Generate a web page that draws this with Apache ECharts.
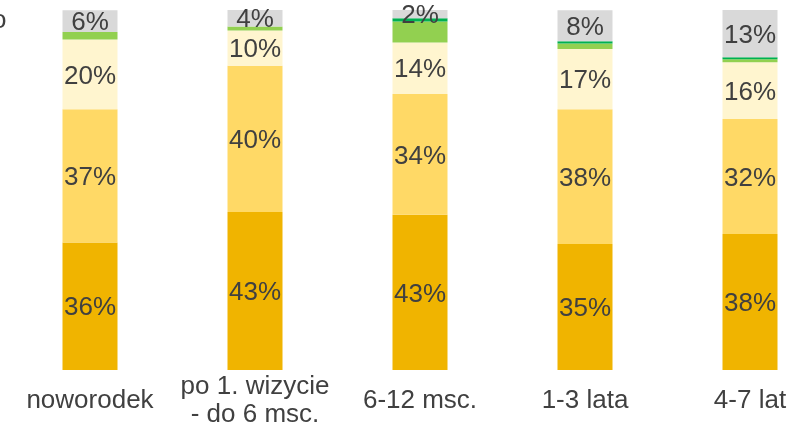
<!DOCTYPE html>
<html>
<head>
<meta charset="utf-8">
<script src="https://cdn.jsdelivr.net/npm/echarts@6/dist/echarts.min.js"></script>
<style>
  html, body { margin: 0; padding: 0; background: #fff; }
  #chart { width: 795px; height: 425px; }
</style>
</head>
<body>
<div id="chart"></div>
<script>
// kategorie
const categories = ['noworodek', 'po 1. wizycie\n- do 6 msc.', '6-12 msc.', '1-3 lata', '4-7 lat']

// udziały (w %)
const darkGold = [35.4, 43.9, 43.1, 35.0, 37.8]
const lightGold = [37.0, 40.6, 33.6, 37.4, 31.9]
const cream = [19.4, 9.8, 14.3, 16.8, 15.8]
const lightGreen = [2.1, 1.1, 5.8, 1.5, 0.8]
const darkGreen = [0, 0, 0.9, 0.6, 0.6]
const gray = [6.0, 4.6, 2.3, 8.6, 13.1]

// etykiety tak jak na oryginale
const darkGoldLabels = ['36%', '43%', '43%', '35%', '38%']
const lightGoldLabels = ['37%', '40%', '34%', '38%', '32%']
const creamLabels = ['20%', '10%', '14%', '17%', '16%']
const grayLabels = ['6%', '4%', '2%', '8%', '13%']

const font = '"Liberation Sans", Arial, sans-serif'

function segment(name, data, color, labels) {
  return {
    name: name,
    type: 'bar',
    stack: 'total',
    barWidth: 55,
    data: data,
    itemStyle: {color: color},
    label: {
      show: !!labels,
      position: 'inside',
      offset: [0, 2],
      fontFamily: font,
      fontSize: 26,
      color: '#404040',
      formatter: function (p) {
        return labels ? labels[p.dataIndex] : ''
      }
    },
    emphasis: {disabled: true}
  }
}

const chart = echarts.init(document.getElementById('chart'))
chart.setOption({
  animation: false,
  grid: {
    left: 7.5,
    top: 10,
    width: 825,
    height: 360,
    containLabel: false,
    outerBoundsMode: 'none'
  },
  xAxis: {
    type: 'category',
    data: categories,
    axisLine: {show: false},
    axisTick: {show: false},
    axisLabel: {
      interval: 0,
      margin: 31,
      verticalAlign: 'middle',
      lineHeight: 28,
      fontFamily: font,
      fontSize: 26,
      color: '#404040'
    }
  },
  yAxis: {
    type: 'value',
    min: 0,
    max: 100,
    show: false
  },
  graphic: [
    {
      type: 'text',
      left: -8,
      top: 8,
      style: {text: 'o', font: '26px ' + font, fill: '#404040'}
    }
  ],
  series: [
    segment('a', darkGold, '#F0B400', darkGoldLabels),
    segment('b', lightGold, '#FFD966', lightGoldLabels),
    segment('c', cream, '#FFF5CF', creamLabels),
    segment('d', lightGreen, '#92D050', null),
    segment('e', darkGreen, '#00B050', null),
    segment('f', gray, '#D9D9D9', grayLabels)
  ]
})
</script>
</body>
</html>
